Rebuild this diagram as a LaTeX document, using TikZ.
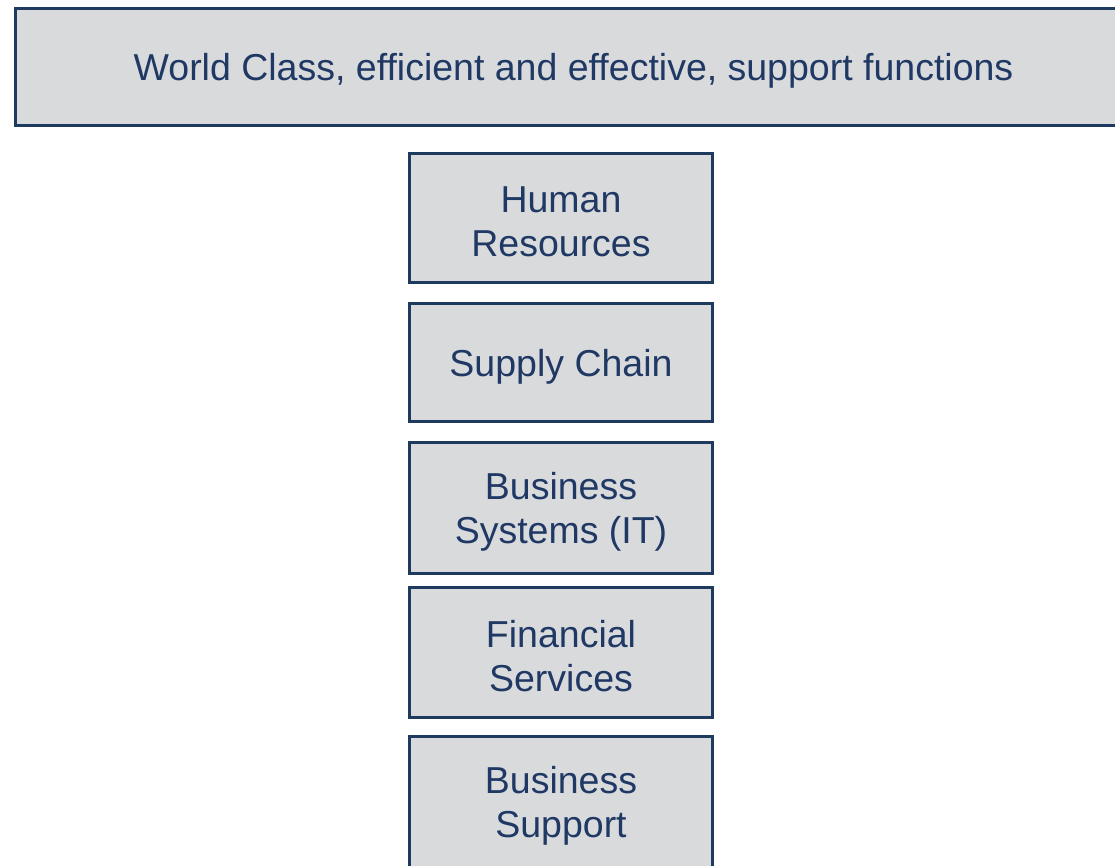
\documentclass[tikz,border=0pt]{standalone}
\usepackage{fontspec}
\setmainfont{Liberation Sans}
\definecolor{boxfill}{HTML}{D9DADC}
\definecolor{boxline}{HTML}{1F3A5F}
\definecolor{boxtext}{HTML}{1F3864}
\begin{document}
\begin{tikzpicture}[x=1pt,y=-1pt,
  fnbox/.style={draw=boxline, fill=boxfill, line width=3pt,
    inner sep=0pt, minimum width=303pt},
  fntext/.style={text=boxtext, align=center, inner sep=0pt, yshift=-4pt,
    font=\fontsize{37.5}{44}\selectfont},
  banner/.style={fnbox, minimum width=1117pt, minimum height=117pt}]
\useasboundingbox (0,0) rectangle (1115,865);
\clip (0,0) rectangle (1115,865);
\fill[white] (0,0) rectangle (1115,865);
% headline banner across the top
\node[banner, label={[fntext]center:World Class, efficient and effective, support functions}] (top) at (573.5,67) {};
% stack of support functions
\node[fnbox, minimum height=129pt, label={[fntext]center:{Human\\Resources}}] (hr) at (561,218) {};
\node[fnbox, minimum height=118pt, label={[fntext]center:Supply Chain}] (sc) at (561,362.5) {};
\node[fnbox, minimum height=131pt, label={[fntext]center:{Business\\Systems (IT)}}] (bs) at (561,508) {};
\node[fnbox, minimum height=130pt, label={[fntext]center:{Financial\\Services}}] (fs) at (561,652.5) {};
\node[fnbox, minimum height=131pt, label={[fntext]center:{Business\\Support}}] (bsup) at (561,802) {};
\end{tikzpicture}
\end{document}
